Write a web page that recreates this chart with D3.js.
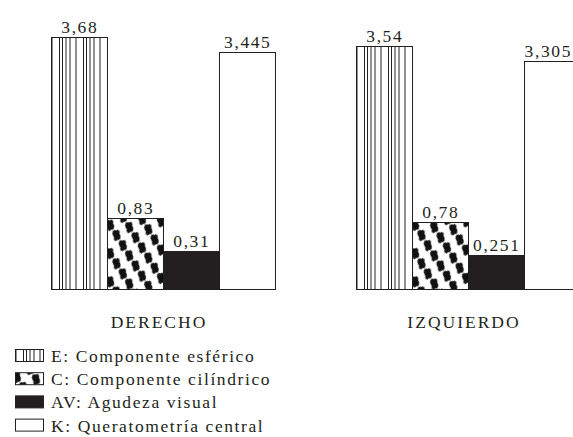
<!DOCTYPE html>
<html>
<head>
<meta charset="utf-8">
<script src="https://cdn.jsdelivr.net/npm/d3@7"></script>
<style>
  html, body { margin: 0; padding: 0; background: #fff; }
  svg { display: block; }
  text { font-family: "Liberation Serif", "Times New Roman", serif; fill: #231f20; }
</style>
</head>
<body>
<svg id="chart" width="573" height="437"></svg>
<script>
// ---- data ----
const groups = ["DERECHO", "IZQUIERDO"];
const seriesKeys = ["E", "C", "AV", "K"];
const seriesNames = [
  "E: Componente esférico",
  "C: Componente cilíndrico",
  "AV: Agudeza visual",
  "K: Queratometría central"
];
const valuesDerecho = [3.68, 0.83, 0.31, 3.445];
const valuesIzquierdo = [3.54, 0.78, 0.251, 3.305];
const valueLabelsDerecho = ["3,68", "0,83", "0,31", "3,445"];
const valueLabelsIzquierdo = ["3,54", "0,78", "0,251", "3,305"];

const rows = [
  { group: groups[0], values: valuesDerecho, labels: valueLabelsDerecho },
  { group: groups[1], values: valuesIzquierdo, labels: valueLabelsIzquierdo }
];

const FS = 17.5, LS = 1.6, W = 573;

const svg = d3.select("#chart");
svg.append("rect").attr("width", W).attr("height", 437).attr("fill", "#fff");

// ---- patterns ----
const defs = svg.append("defs");
// E: irregular vertical lines
const pE = defs.append("pattern").attr("id", "patE")
  .attr("patternUnits", "userSpaceOnUse").attr("width", 24).attr("height", 10)
  .attr("x", 56);
pE.append("rect").attr("width", 24).attr("height", 10).attr("fill", "#fff");
[0, 3, 6.5, 10.5, 16.5].forEach(x => {
  pE.append("rect").attr("x", x).attr("y", 0).attr("width", 1).attr("height", 10).attr("fill", "#231f20");
});
// C: diagonal blobs
const pC = defs.append("pattern").attr("id", "patC")
  .attr("patternUnits", "userSpaceOnUse").attr("width", 15).attr("height", 12)
  .attr("patternTransform", "rotate(-32)");
pC.append("rect").attr("width", 15).attr("height", 12).attr("fill", "#fff");
pC.append("ellipse").attr("cx", 6).attr("cy", 6).attr("rx", 3.4).attr("ry", 5.4).attr("fill", "#111");
pC.append("ellipse").attr("cx", 9).attr("cy", 4).attr("rx", 1.6).attr("ry", 2).attr("fill", "#111");
pC.append("ellipse").attr("cx", 3).attr("cy", 9).attr("rx", 1.6).attr("ry", 2).attr("fill", "#111");

const fills = ["url(#patE)", "url(#patC)", "#231f20", "#fff"];

// ---- scales ----
const x0 = d3.scaleBand().domain(groups).range([51, 580]).paddingInner(0.2656).paddingOuter(0);
const x1 = d3.scaleBand().domain(seriesKeys).range([0, x0.bandwidth()]).padding(0);
const y = d3.scaleLinear().domain([-0.28, 3.7]).range([289, 36]);
const base = y.range()[0];

// ---- bars ----
const g = svg.selectAll("g.grp").data(rows).enter().append("g")
  .attr("class", "grp")
  .attr("transform", d => `translate(${x0(d.group)},0)`);

const items = row => row.values.map((v, i) => ({ key: seriesKeys[i], v, label: row.labels[i], i, gx: x0(row.group) }));

g.selectAll("rect.bar")
  .data(items)
  .enter().append("rect")
  .attr("class", "bar")
  .attr("x", d => x1(d.key) + 0.5)
  .attr("y", d => Math.round(y(d.v)) + 0.5)
  .attr("width", x1.bandwidth())
  .attr("height", d => base - Math.round(y(d.v)))
  .attr("fill", d => fills[d.i])
  .attr("stroke", "#231f20")
  .attr("stroke-width", 1);

g.selectAll("text.val")
  .data(items)
  .enter().append("text")
  .attr("class", "val")
  .attr("y", d => y(d.v) - 4)
  .attr("text-anchor", "middle")
  .attr("font-size", FS)
  .attr("letter-spacing", LS)
  .text(d => d.label)
  .attr("x", function (d) {
    const cx = x1(d.key) + x1.bandwidth() / 2 + LS / 2;
    const half = this.getComputedTextLength() / 2;
    const maxCx = W - d.gx - half - 1;
    return Math.min(cx, maxCx);
  });

// ---- group labels ----
svg.selectAll("text.grpLabel").data(groups).enter().append("text")
  .attr("class", "grpLabel")
  .attr("x", d => x0(d) + x0.bandwidth() / 2 - 4)
  .attr("y", 328)
  .attr("text-anchor", "middle")
  .attr("font-size", FS)
  .attr("letter-spacing", LS + 0.4)
  .text(d => d);

// ---- legend ----
const leg = svg.append("g").attr("transform", "translate(15,0)");
const legItems = leg.selectAll("g.li").data(seriesNames).enter().append("g")
  .attr("class", "li")
  .attr("transform", (d, i) => `translate(0,${362 + i * 23.2})`);
legItems.append("rect")
  .attr("x", 0.5).attr("y", -12.5)
  .attr("width", 28).attr("height", 12)
  .attr("fill", (d, i) => fills[i])
  .attr("stroke", "#231f20").attr("stroke-width", 1);
legItems.append("text")
  .attr("x", 36).attr("y", 0)
  .attr("font-size", FS)
  .attr("letter-spacing", LS)
  .text(d => d);
</script>
</body>
</html>
